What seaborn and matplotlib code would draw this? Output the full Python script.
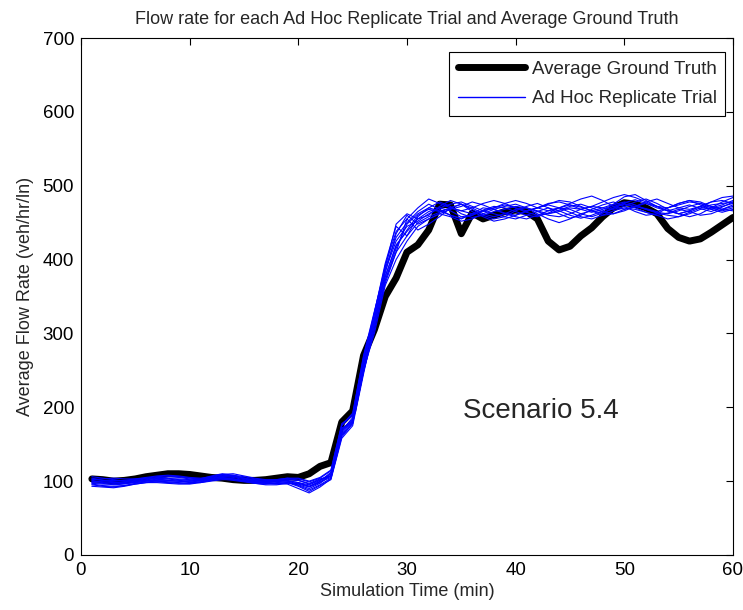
import numpy as np
import pandas as pd
import matplotlib
matplotlib.use("Agg")
import matplotlib.pyplot as plt
import seaborn as sns
from matplotlib.lines import Line2D

# ---------------- data ----------------
ground_truth = [103, 102, 100, 101, 103, 106, 108, 110, 110, 109, 107, 105, 104, 102, 101,
                101, 102, 104, 106, 105, 110, 120, 125, 180, 195, 270, 305, 350, 375, 410,
                420, 440, 475, 474, 435, 463, 455, 460, 465, 467, 465, 455, 425, 413, 418,
                432, 443, 458, 470, 477, 475, 470, 462, 442, 430, 425, 428, 437, 447, 457]

rep1 = [98, 97, 95, 96, 99, 102, 104, 103, 101, 100, 101, 104, 105, 103, 100, 98, 99, 101, 100, 96, 92, 98,
        110, 168, 186, 262, 318, 385, 425, 445, 452,
        462, 470, 466, 458, 460, 467, 472, 470, 465, 460, 458, 463, 470, 474, 471, 466, 463, 469, 477, 481,
        476, 470, 466, 470, 474, 469, 465, 471, 478]
rep2 = [104, 101, 99, 97, 98, 100, 103, 106, 105, 103, 102, 106, 109, 107, 104, 101, 100, 102, 104, 101, 96, 102,
        106, 172, 180, 248, 305, 372, 410, 455, 440,
        448, 458, 470, 475, 468, 460, 455, 458, 466, 472, 476, 470, 462, 456, 460, 468, 474, 478, 472, 465,
        460, 462, 470, 476, 480, 474, 468, 472, 476]
rep3 = [95, 93, 92, 94, 97, 99, 100, 99, 98, 97, 99, 102, 103, 101, 99, 97, 96, 98, 99, 94, 88, 95,
        104, 160, 178, 255, 328, 395, 445, 432, 458,
        470, 478, 472, 462, 457, 460, 465, 468, 472, 470, 465, 460, 458, 462, 468, 472, 470, 475, 485, 488,
        480, 472, 466, 462, 466, 472, 478, 484, 486]
rep4 = [101, 99, 98, 99, 101, 103, 105, 104, 102, 101, 103, 107, 110, 108, 104, 100, 98, 99, 101, 98, 93, 100,
        112, 175, 190, 270, 330, 388, 430, 450, 465,
        475, 468, 460, 455, 462, 470, 468, 462, 458, 455, 460, 466, 470, 468, 462, 458, 463, 470, 475, 472,
        468, 463, 460, 458, 462, 468, 470, 466, 470]
rep5 = [99, 100, 101, 100, 102, 104, 103, 101, 100, 99, 100, 103, 106, 105, 102, 99, 97, 96, 98, 95, 90, 97,
        108, 165, 182, 250, 300, 365, 400, 425, 445,
        455, 462, 468, 472, 478, 474, 468, 463, 460, 465, 470, 475, 480, 478, 472, 466, 460, 462, 468, 472,
        469, 465, 470, 476, 480, 478, 472, 468, 474]
rep6 = [106, 104, 102, 100, 100, 101, 102, 103, 103, 102, 101, 103, 106, 106, 104, 102, 101, 101, 103, 103, 99, 104,
        114, 178, 188, 265, 325, 378, 418, 440, 460,
        468, 465, 470, 475, 470, 462, 458, 462, 468, 470, 466, 462, 465, 470, 468, 464, 468, 474, 478, 474,
        468, 464, 462, 466, 472, 476, 472, 468, 466]
rep7 = [97, 96, 96, 97, 98, 100, 101, 101, 100, 98, 98, 100, 102, 102, 100, 98, 97, 97, 98, 93, 86, 94,
        102, 158, 175, 245, 312, 382, 435, 460, 448,
        455, 462, 458, 452, 455, 462, 468, 472, 475, 470, 462, 455, 450, 455, 462, 466, 470, 468, 472, 478,
        482, 476, 468, 462, 458, 462, 470, 478, 484]
rep8 = [102, 103, 104, 103, 103, 104, 106, 107, 106, 104, 103, 104, 107, 108, 106, 103, 101, 100, 100, 98, 95, 101,
        110, 170, 184, 258, 320, 390, 448, 462, 455,
        460, 472, 480, 475, 465, 458, 452, 455, 460, 466, 470, 474, 470, 464, 458, 455, 460, 466, 470, 468,
        464, 460, 455, 458, 464, 470, 474, 476, 478]
rep9 = [93, 92, 91, 93, 96, 98, 98, 97, 96, 96, 98, 101, 104, 103, 100, 97, 95, 95, 97, 97, 93, 99,
        105, 163, 180, 252, 318, 376, 420, 438, 455,
        465, 470, 475, 478, 472, 466, 470, 476, 480, 476, 470, 466, 470, 476, 482, 486, 480, 472, 468, 472,
        478, 482, 476, 470, 468, 472, 478, 480, 476]
rep10 = [100, 98, 97, 98, 100, 101, 100, 99, 99, 100, 102, 105, 108, 107, 103, 100, 99, 100, 102, 101, 97, 103,
         107, 167, 183, 260, 315, 372, 415, 448, 462,
         470, 466, 460, 456, 460, 466, 462, 458, 455, 460, 465, 470, 466, 460, 456, 460, 466, 472, 476, 470,
         464, 460, 463, 468, 465, 460, 462, 468, 472]
rep11 = [96, 94, 93, 94, 96, 98, 99, 98, 97, 97, 99, 102, 104, 103, 101, 99, 98, 97, 96, 90, 84, 92,
         103, 162, 178, 248, 310, 368, 410, 432, 450,
         458, 464, 470, 466, 462, 465, 470, 474, 470, 464, 460, 462, 467, 472, 475, 470, 465, 462, 466, 472,
         476, 472, 466, 462, 466, 472, 468, 464, 468]
rep12 = [103, 101, 100, 101, 103, 105, 107, 108, 107, 105, 104, 106, 109, 110, 107, 104, 102, 102, 104, 104, 100, 105,
         115, 176, 192, 268, 328, 392, 438, 455, 470,
         482, 476, 470, 466, 470, 476, 480, 476, 470, 466, 470, 476, 478, 474, 468, 472, 478, 484, 488, 484,
         478, 472, 470, 474, 478, 476, 470, 474, 480]

replicates = [rep1, rep2, rep3, rep4, rep5, rep6, rep7, rep8, rep9, rep10, rep11, rep12]

x_ticks = [0, 10, 20, 30, 40, 50, 60]
y_ticks = [0, 100, 200, 300, 400, 500, 600, 700]

# ---------------- plot ----------------
sns.set_style("white")
plt.rcParams["font.family"] = ["Liberation Sans", "DejaVu Sans"]

fig = plt.figure(figsize=(7.43, 6.10), dpi=100)
ax = fig.add_axes([0.1090, 0.0902, 0.8775, 0.8475])

for rep in replicates:
    xs = np.arange(1, len(rep) + 1)
    sns.lineplot(x=xs, y=rep, ax=ax, color="#0000ff", linewidth=0.8)

xs = np.arange(1, len(ground_truth) + 1)
sns.lineplot(x=xs, y=ground_truth, ax=ax, color="black", linewidth=5.0, zorder=1)
for line in ax.lines[:-1]:
    line.set_zorder(2)

ax.set_xlim(0, 60)
ax.set_ylim(0, 700)
ax.set_xticks(x_ticks)
ax.set_yticks(y_ticks)
ax.tick_params(direction="in", top=True, right=True, length=5, width=0.8,
               labelsize=13.5, colors="black", pad=5)
for s in ax.spines.values():
    s.set_color("black")
    s.set_linewidth(0.8)

ax.set_xlabel("Simulation Time (min)", fontsize=13, labelpad=3)
ax.set_ylabel("Average Flow Rate (veh/hr/ln)", fontsize=13, labelpad=6)
ax.set_title("Flow rate for each Ad Hoc Replicate Trial and Average Ground Truth",
             fontsize=13, pad=10)

ax.text(35.2, 195, "Scenario 5.4", fontsize=20, ha="left", va="center")

handles = [Line2D([], [], color="black", linewidth=5.0),
           Line2D([], [], color="#0000ff", linewidth=1.0)]
leg = ax.legend(handles, ["Average Ground Truth", "Ad Hoc Replicate Trial"],
                loc="upper right", bbox_to_anchor=(0.988, 0.972), fontsize=13.5,
                frameon=True, fancybox=False, framealpha=1, edgecolor="black",
                borderpad=0.45, handlelength=3.6, handletextpad=0.35,
                labelspacing=0.65, borderaxespad=0)
leg.get_frame().set_linewidth(0.8)

fig.savefig("out.png", dpi=100)
